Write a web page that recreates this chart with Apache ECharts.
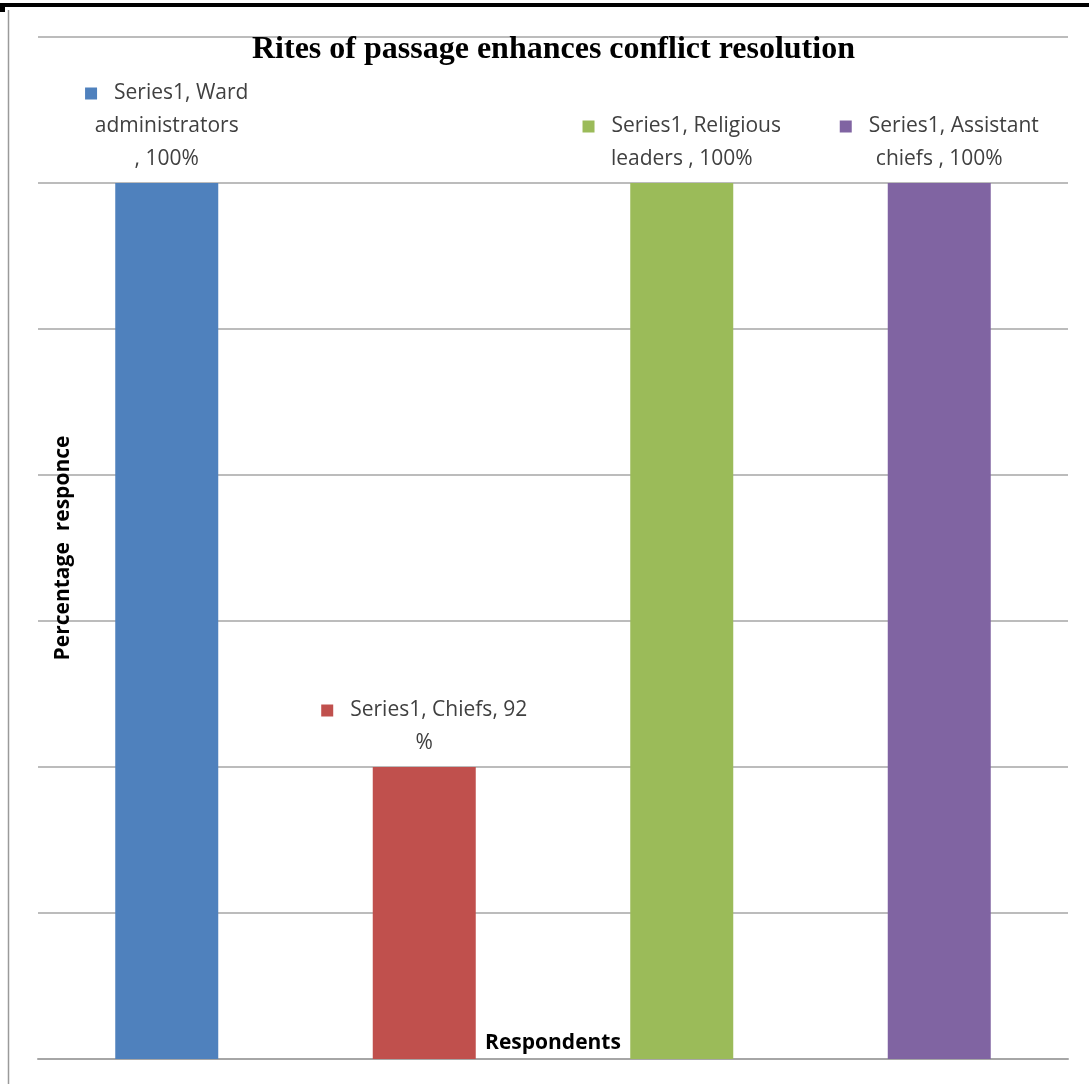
<!DOCTYPE html>
<html>
<head>
<meta charset="utf-8">
<script src="https://cdn.jsdelivr.net/npm/echarts@6/dist/echarts.min.js"></script>
<style>
  html, body { margin: 0; padding: 0; background: #fff; }
  #chart { width: 1089px; height: 1084px; }
</style>
</head>
<body>
<div id="chart"></div>
<script>
// Chart data
const seriesName = 'Series1';
// category names carry the line breaks used by their data labels
const categories = ['Ward\nadministrators\n', 'Chiefs', 'Religious\nleaders ', 'Assistant\nchiefs '];
const values = [100, 92, 100, 100];
const unitBreaks = ['', '\n', '', ''];
const barColors = ['#4F81BD', '#C0504D', '#9BBB59', '#8064A2'];

// y scale: 88% .. 102% with a gridline every 2%
const yMin = 88, yMax = 102, yStep = 2;

const labelFont = '"Open Sans", Lato, sans-serif';

function buildLabel(p) {
  const i = p.dataIndex;
  const text = seriesName + ', ' + categories[i] + ', ' + p.value + unitBreaks[i] + '%';
  const lines = text.split('\n');
  return lines.map((ln, k) => k === 0 ? '{sq' + i + '|}{f|' + ln + '}' : '{t|' + ln + '}').join('\n');
}

const rich = {
  f: { fontSize: 21, lineHeight: 33, color: '#404040', fontFamily: labelFont, padding: [0, 0, 0, 17] },
  t: { fontSize: 21, lineHeight: 33, color: '#404040', fontFamily: labelFont }
};
barColors.forEach((c, i) => {
  rich['sq' + i] = { width: 12, height: 12, backgroundColor: c, lineHeight: 33 };
});

const chart = echarts.init(document.getElementById('chart'));
chart.setOption({
  animation: false,
  backgroundColor: '#ffffff',
  title: {
    text: 'Rites of passage enhances conflict resolution',
    left: 247,
    top: 29,
    textStyle: { fontFamily: '"Liberation Serif", serif', fontWeight: 'bold', fontSize: 32, color: '#000' }
  },
  grid: { left: 38, right: 21, top: 37, bottom: 25 },
  xAxis: {
    type: 'category',
    data: categories,
    name: 'Respondents',
    nameLocation: 'middle',
    nameGap: -26,
    nameTextStyle: { fontFamily: labelFont, fontWeight: 'bold', fontSize: 21, color: '#000' },
    axisLine: { show: true, lineStyle: { color: '#a6a6a6', width: 2 } },
    axisTick: { show: false },
    axisLabel: { show: false }
  },
  yAxis: {
    type: 'value',
    min: yMin,
    max: yMax,
    interval: yStep,
    name: 'Percentage  responce',
    nameLocation: 'middle',
    nameRotate: 90,
    nameGap: -36,
    nameTextStyle: { fontFamily: labelFont, fontWeight: 'bold', fontSize: 21, color: '#000' },
    axisLine: { show: false },
    axisTick: { show: false },
    axisLabel: { show: false },
    splitLine: { show: true, lineStyle: { color: '#a6a6a6', width: 1.5 } }
  },
  series: [{
    name: seriesName,
    type: 'bar',
    barWidth: '40%',
    data: values.map((v, i) => ({ value: v, itemStyle: { color: barColors[i] } })),
    label: {
      show: true,
      position: 'top',
      distance: 7,
      align: 'center',
      formatter: buildLabel,
      rich: rich
    }
  }],
  graphic: [
    // page rule and frame edges around the figure
    { type: 'rect', shape: { x: 0, y: 3, width: 1089, height: 4 }, style: { fill: '#000' }, silent: true },
    { type: 'rect', shape: { x: 0, y: 7, width: 5, height: 5 }, style: { fill: '#000' }, silent: true },
    { type: 'line', shape: { x1: 8.5, y1: 10, x2: 8.5, y2: 1084 }, style: { stroke: '#9a9a9a', lineWidth: 1.5 }, silent: true }
  ]
});
</script>
</body>
</html>
